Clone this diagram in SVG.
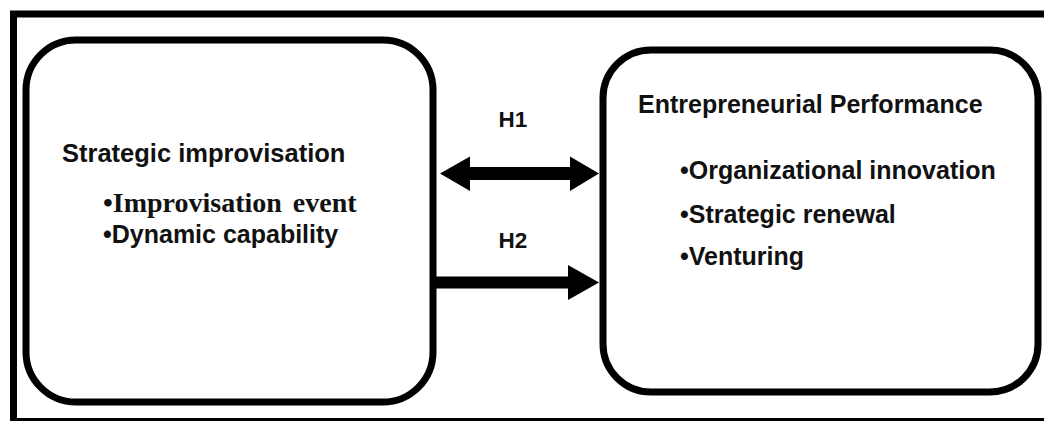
<svg xmlns="http://www.w3.org/2000/svg" width="1044" height="421" viewBox="0 0 1044 421">
<style>
.frame{fill:none;stroke:#000;stroke-width:7}
.box{fill:#fff;stroke:#000;stroke-width:7}
.sans{font-family:"Liberation Sans",Arial,sans-serif;font-weight:bold;fill:#111}
.serif{font-family:"Liberation Serif","Times New Roman",serif;font-weight:bold;fill:#111}
.arrow{fill:#000}
</style>
<rect width="1044" height="421" fill="#fff"/>
<g id="frame">
<path class="frame" d="M13.5,421 V14 H1044"/>
<line x1="10" y1="419.5" x2="1044" y2="419.5" stroke="#000" stroke-width="3"/>
</g>
<g id="strategic-improvisation">
<rect class="box" x="26" y="40" width="407" height="362" rx="50" ry="50"/>
<text class="sans" x="62" y="161.5" font-size="25.5">Strategic improvisation</text>
<text class="serif" x="103" y="211.5" font-size="28" word-spacing="4">•Improvisation event</text>
<text class="sans" x="103" y="243" font-size="25">•Dynamic capability</text>
</g>
<g id="entrepreneurial-performance">
<rect class="box" x="603" y="50" width="435" height="342" rx="48" ry="48"/>
<text class="sans" x="638" y="112.5" font-size="25">Entrepreneurial Performance</text>
<text class="sans" x="680" y="179" font-size="25">•Organizational innovation</text>
<text class="sans" x="680" y="223" font-size="25">•Strategic renewal</text>
<text class="sans" x="680" y="265" font-size="25">•Venturing</text>
</g>
<g id="connectors">
<g id="h1">
<polygon class="arrow" points="440,173.5 470,156.5 470,167 570,167 570,156.5 599,173.5 570,191 570,180 470,180 470,191"/>
<text class="sans" x="513" y="126.5" font-size="22.5" text-anchor="middle">H1</text>
</g>
<g id="h2">
<polygon class="arrow" points="436,276.5 568,276.5 568,265 599,282.5 568,300 568,288.5 436,288.5"/>
<text class="sans" x="513" y="248" font-size="22.5" text-anchor="middle">H2</text>
</g>
</g>
</svg>
